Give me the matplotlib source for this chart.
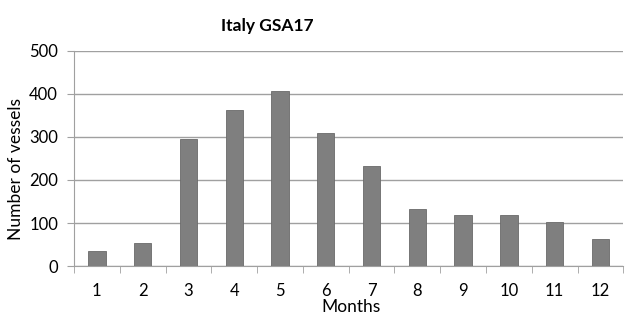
import matplotlib.pyplot as plt

months = [str(m) for m in range(1, 13)]
vessels = [35, 53, 296, 362, 407, 309, 233, 132, 119, 119, 103, 62]

plt.rcParams['font.family'] = ['Lato', 'DejaVu Sans']

fig = plt.figure(figsize=(6.25, 3.16), dpi=100)
ax = fig.add_axes([0.1184, 0.158, 0.879, 0.681])

x = range(len(months))
ax.bar(x, vessels, width=0.38, color='#7f7f7f', edgecolor='#6a6a6a', linewidth=0.6, zorder=3)

ax.set_xlim(-0.5, len(months) - 0.5)
ax.set_ylim(0, 500)
ax.set_yticks(range(0, 501, 100))
ax.yaxis.grid(True, color='#a0a0a0', linewidth=1)
ax.set_axisbelow(True)

ax.set_xticks(list(x))
ax.set_xticklabels(months)
ax.set_xticks([i - 0.5 for i in range(len(months) + 1)], minor=True)
ax.tick_params(axis='x', which='major', length=0, labelsize=12, pad=12)
ax.tick_params(axis='x', which='minor', length=5, color='#a0a0a0', direction='out')
ax.tick_params(axis='y', length=5, color='#a0a0a0', labelsize=12, pad=6.5)

for s in ['top', 'right']:
    ax.spines[s].set_visible(False)
ax.spines['left'].set_color('#a0a0a0')
ax.spines['bottom'].set_color('#a0a0a0')

ax.set_xlabel('Months', fontsize=12.5)
ax.xaxis.set_label_coords(0.505, -0.155)
ax.set_ylabel('Number of vessels', fontsize=12.5)
ax.yaxis.set_label_coords(-0.091, 0.453)
fig.text(0.427, 0.903, 'Italy GSA17', fontsize=12.5, fontweight='bold', ha='center', va='baseline')

fig.savefig('out.png', dpi=100)
